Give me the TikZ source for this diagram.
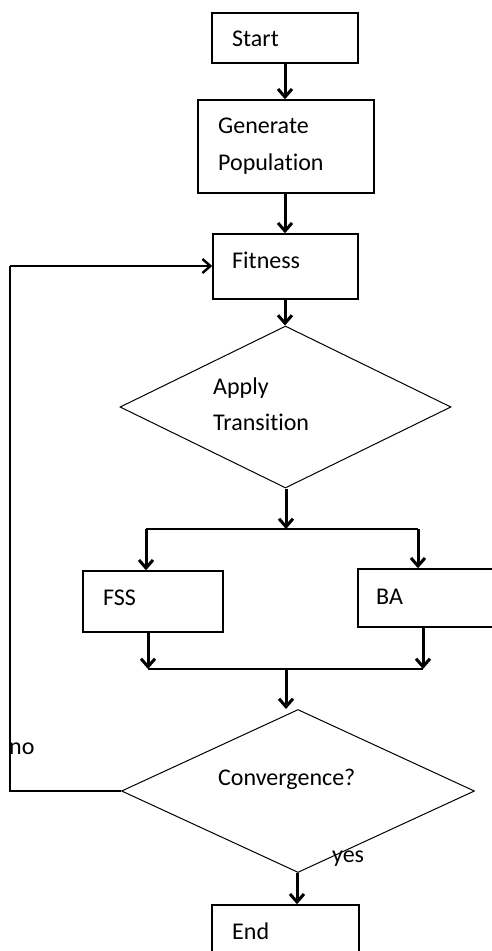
\documentclass[tikz,border=0pt]{standalone}
\usepackage{fontspec}
\setmainfont{Carlito}[Ligatures=NoCommon]
\usetikzlibrary{shapes.geometric,arrows.meta}
\begin{document}
\begin{tikzpicture}[x=1pt,y=-1pt,
  box/.style={draw, line width=1.5pt, inner sep=0pt, rectangle},
  dia/.style={draw, line width=1pt, diamond, inner sep=0pt},
  lbl/.style={anchor=base west, inner sep=0pt, font=\fontsize{24}{28}\selectfont},
  arr/.style={line width=3pt, -{Straight Barb[length=8pt,width=14pt]}},
  ln/.style={line width=1.8pt}]
\useasboundingbox (0,0) rectangle (491,951);
% boxes
\node[box, minimum width=146pt, minimum height=50pt] (start) at (285,38) {};
\node[box, minimum width=176pt, minimum height=93pt] (gen) at (286,146.5) {};
\node[box, minimum width=145pt, minimum height=65pt] (fit) at (285.5,266.5) {};
\node[dia, minimum width=331pt, minimum height=162pt] (d1) at (285.5,407) {};
\node[box, minimum width=140pt, minimum height=61pt] (fss) at (153,601.5) {};
\node[box, minimum width=142pt, minimum height=58pt] (ba) at (429,598) {};
\node[dia, minimum width=353pt, minimum height=163pt] (d2) at (298,791) {};
\node[box, minimum width=147pt, minimum height=60pt] (end) at (285.5,935) {};
% texts
\node[lbl] (tstart) at (232,46) {Start};
\node[lbl] (tgen1) at (218,133) {Generate};
\node[lbl] (tgen2) at (218,170) {Population};
\node[lbl] (tfit) at (232,268) {Fitness};
\node[lbl] (tap1) at (213,394) {Apply};
\node[lbl] (tap2) at (213,430) {Transition};
\node[lbl] (tfss) at (103,605) {FSS};
\node[lbl] (tba) at (376,604) {BA};
\node[lbl] (tconv) at (218,785) {Convergence?};
\node[lbl] (tno) at (9,754) {no};
\node[lbl] (tyes) at (332,862) {yes};
\node[lbl] (tend) at (232,939) {End};
% coordinates
\coordinate (split) at (286,529);
\coordinate (bl) at (146,529);
\coordinate (br) at (418,529);
\coordinate (ml) at (148,669);
\coordinate (mr) at (423,669);
\coordinate (mid) at (286,669);
\coordinate (fbb) at (10,791);
\coordinate (fbt) at (10,266);
% connectors
\draw[arr] (start.south -| 285,0) -- (gen.north -| 285,0);
\draw[arr] (gen.south -| 285,0) -- (fit.north -| 285,0);
\draw[arr] (fit.south -| 285,0) -- (d1.north -| 285,0);
\draw[arr] (d1.south -| split) -- (split);
\draw[ln] (bl) -- (br);
\draw[arr] (bl) -- (bl |- fss.north);
\draw[arr] (br) -- (br |- ba.north);
\draw[arr] (ml |- fss.south) -- (ml);
\draw[arr] (mr |- ba.south) -- (mr);
\draw[ln] (ml) -- (mr);
\draw[arr] (mid) -- (mid |- d2.north);
\draw[arr] (d2.south -| 297,0) -- (end.north -| 297,0);
\draw[ln] (d2.west) -- (fbb) -- (fbt);
\draw[line width=2.4pt, -{Straight Barb[length=8pt,width=14pt]}] (fbt) -- (fit.west |- fbt);
\end{tikzpicture}
\end{document}
